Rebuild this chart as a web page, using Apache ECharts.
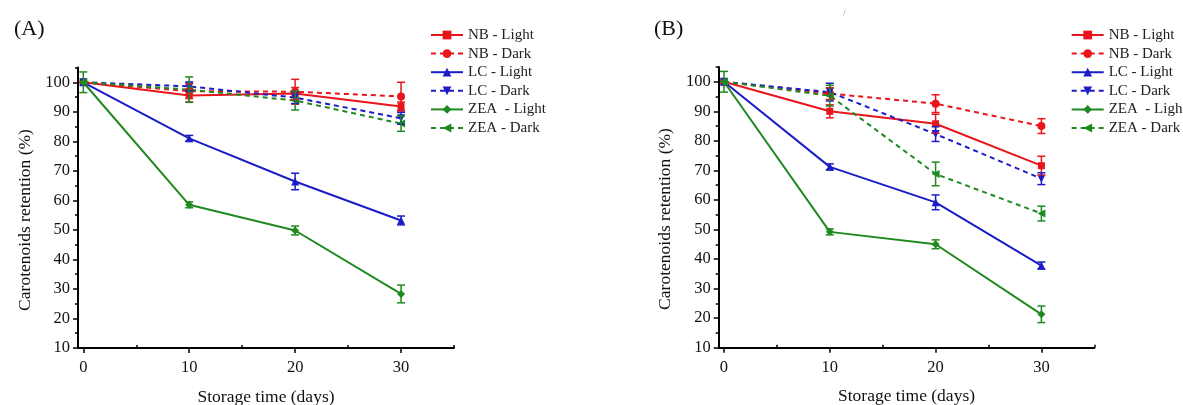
<!DOCTYPE html>
<html>
<head>
<meta charset="utf-8">
<script src="https://cdn.jsdelivr.net/npm/echarts@6/dist/echarts.min.js"></script>
<style>html,body{margin:0;padding:0;background:#fff}#c{width:1183px;height:405px}</style>
</head>
<body>
<div id="c"></div>
<script>
// ---- data ----
const days = [0, 10, 20, 30];
const seriesNames = ['NB - Light', 'NB - Dark', 'LC - Light', 'LC - Dark', 'ZEA  - Light', 'ZEA - Dark'];
const yTickLabels = [10, 20, 30, 40, 50, 60, 70, 80, 90, 100];
const xTickLabels = [0, 10, 20, 30];

// Panel A values (%)
const A_NB_Light  = [100, 95.5, 96.2, 91.8];
const A_NB_Dark   = [100, 97.0, 96.8, 95.2];
const A_LC_Light  = [100, 81.0, 66.4, 53.2];
const A_LC_Dark   = [100, 98.6, 94.8, 87.8];
const A_ZEA_Light = [100, 58.5, 49.8, 28.3];
const A_ZEA_Dark  = [100, 97.5, 93.8, 86.0];
// Panel A error (±)
const A_NB_Light_err  = [0, 2.2, 2.0, 1.5];
const A_NB_Dark_err   = [0, 2.5, 4.2, 4.8];
const A_LC_Light_err  = [0, 1.0, 2.8, 1.5];
const A_LC_Dark_err   = [0, 1.5, 2.0, 2.0];
const A_ZEA_Light_err = [3.5, 1.0, 1.5, 3.0];
const A_ZEA_Dark_err  = [0, 4.3, 3.2, 2.6];

// Panel B values (%)
const B_NB_Light  = [100, 90.0, 85.8, 71.6];
const B_NB_Dark   = [100, 96.0, 92.6, 85.0];
const B_LC_Light  = [100, 71.2, 59.2, 37.8];
const B_LC_Dark   = [100, 96.5, 82.3, 67.2];
const B_ZEA_Light = [100, 49.2, 45.0, 21.3];
const B_ZEA_Dark  = [100, 95.3, 68.8, 55.4];
// Panel B error (±)
const B_NB_Light_err  = [0, 2.2, 3.2, 3.2];
const B_NB_Dark_err   = [0, 2.0, 3.0, 2.5];
const B_LC_Light_err  = [0, 1.0, 2.5, 1.2];
const B_LC_Dark_err   = [0, 3.0, 2.5, 2.0];
const B_ZEA_Light_err = [3.5, 1.0, 1.5, 2.8];
const B_ZEA_Dark_err  = [0, 3.5, 4.0, 2.5];

// ---- styles ----
const RED = '#e8161c', BLUE = '#1c1cc8', GREEN = '#1f8a1f';
const FONT = 'Liberation Serif';
const styles = [
  {color: RED,   dash: 'solid', symbol: 'rect',     size: 7, rot: 0},
  {color: RED,   dash: [5, 4],  symbol: 'circle',   size: 8, rot: 0},
  {color: BLUE,  dash: 'solid', symbol: 'triangle', size: 8, rot: 0},
  {color: BLUE,  dash: [5, 4],  symbol: 'triangle', size: 8, rot: 180},
  {color: GREEN, dash: 'solid', symbol: 'diamond',  size: 8, rot: 0},
  {color: GREEN, dash: [5, 4],  symbol: 'triangle', size: 8, rot: 90}
];

const panelA = [A_NB_Light, A_NB_Dark, A_LC_Light, A_LC_Dark, A_ZEA_Light, A_ZEA_Dark];
const panelAErr = [A_NB_Light_err, A_NB_Dark_err, A_LC_Light_err, A_LC_Dark_err, A_ZEA_Light_err, A_ZEA_Dark_err];
const panelB = [B_NB_Light, B_NB_Dark, B_LC_Light, B_LC_Dark, B_ZEA_Light, B_ZEA_Dark];
const panelBErr = [B_NB_Light_err, B_NB_Dark_err, B_LC_Light_err, B_LC_Dark_err, B_ZEA_Light_err, B_ZEA_Dark_err];

function mainX(gi) {
  return {
    type: 'value', gridIndex: gi, min: -0.5, max: 35, position: 'bottom',
    axisLine: {show: true, onZero: false, lineStyle: {color: '#000', width: 2}},
    axisTick: {show: true, customValues: xTickLabels, length: 5, lineStyle: {color: '#000', width: 1.5}},
    axisLabel: {customValues: xTickLabels, color: '#111', fontFamily: FONT, fontSize: 16.5, margin: 11},
    splitLine: {show: false},
    name: 'Storage time (days)', nameLocation: 'middle', nameGap: 40,
    nameTextStyle: {fontFamily: FONT, fontSize: 17.5, color: '#111'}
  };
}
function minorX(gi) {
  return {
    type: 'value', gridIndex: gi, min: -0.5, max: 35, position: 'bottom',
    axisLine: {show: false, onZero: false},
    axisTick: {show: true, inside: true, customValues: [5, 15, 25, 35], length: 3, lineStyle: {color: '#000', width: 1.5}},
    axisLabel: {show: false}, splitLine: {show: false}
  };
}
function mainY(gi) {
  return {
    type: 'value', gridIndex: gi, min: 10, max: 105, position: 'left',
    axisLine: {show: true, onZero: false, lineStyle: {color: '#000', width: 2}},
    axisTick: {show: true, customValues: yTickLabels, length: 5, lineStyle: {color: '#000', width: 1.5}},
    axisLabel: {customValues: yTickLabels, color: '#111', fontFamily: FONT, fontSize: 16.5, margin: 8},
    splitLine: {show: false}
  };
}
function minorY(gi) {
  return {
    type: 'value', gridIndex: gi, min: 10, max: 105, position: 'left',
    axisLine: {show: false, onZero: false},
    axisTick: {show: true, customValues: [15, 25, 35, 45, 55, 65, 75, 85, 95, 105], length: 3, lineStyle: {color: '#000', width: 1.5}},
    axisLabel: {show: false}, splitLine: {show: false}
  };
}

const series = [];
function addPanel(vals, errs, axisIdx) {
  vals.forEach((v, i) => {
    const s = styles[i];
    series.push({
      type: 'line', name: seriesNames[i], xAxisIndex: axisIdx, yAxisIndex: axisIdx,
      data: days.map((d, k) => [d, v[k]]),
      symbol: s.symbol, symbolSize: s.size, symbolRotate: s.rot,
      itemStyle: {color: s.color},
      lineStyle: {color: s.color, width: 2, type: s.dash},
      z: 3, animation: false
    });
  });
  vals.forEach((v, i) => {
    const col = styles[i].color;
    series.push({
      type: 'custom', name: seriesNames[i] + ' err', xAxisIndex: axisIdx, yAxisIndex: axisIdx,
      data: days.map((d, k) => [d, v[k], errs[i][k]]),
      encode: {x: 0, y: 1},
      renderItem: function (params, api) {
        const x = api.value(0), y = api.value(1), e = api.value(2);
        if (!e) return null;
        const t = api.coord([x, y + e]), b = api.coord([x, y - e]);
        const w = 4;
        const st = {stroke: col, lineWidth: 1.5};
        return {type: 'group', children: [
          {type: 'line', shape: {x1: t[0], y1: t[1], x2: b[0], y2: b[1]}, style: st},
          {type: 'line', shape: {x1: t[0] - w, y1: t[1], x2: t[0] + w, y2: t[1]}, style: st},
          {type: 'line', shape: {x1: b[0] - w, y1: b[1], x2: b[0] + w, y2: b[1]}, style: st}
        ]};
      },
      z: 4, animation: false
    });
  });
}
addPanel(panelA, panelAErr, 0);
addPanel(panelB, panelBErr, 2);

function legend(left) {
  return {
    orient: 'vertical', left: left, top: 27.5, padding: 0, data: seriesNames,
    itemWidth: 32, itemHeight: 11, itemGap: 3.6,
    textStyle: {fontFamily: FONT, fontSize: 15, color: '#222', lineHeight: 15},
    selectedMode: false
  };
}

function yName(x, y) {
  return {
    type: 'text', x: x, y: y, rotation: Math.PI / 2,
    style: {text: 'Carotenoids retention (%)', fill: '#111', font: '17.5px ' + FONT, textAlign: 'center', textVerticalAlign: 'middle'}
  };
}

const option = {
  backgroundColor: '#fff',
  animation: false,
  title: [
    {text: '(A)', left: 9, top: 13, textStyle: {fontFamily: FONT, fontSize: 22, fontWeight: 'normal', color: '#111'}},
    {text: '(B)', left: 649, top: 13, textStyle: {fontFamily: FONT, fontSize: 22, fontWeight: 'normal', color: '#111'}}
  ],
  graphic: [
    {type: 'text', x: 843, y: 8, style: {text: '/', fill: '#aaa', font: '11px ' + FONT}},
    yName(25, 220),
    yName(665, 219)
  ],
  grid: [
    {left: 78, right: 729, top: 67.5, bottom: 57, containLabel: false, outerBoundsMode: 'none'},
    {left: 718.7, right: 88.7, top: 67, bottom: 57.3, containLabel: false, outerBoundsMode: 'none'}
  ],
  xAxis: [mainX(0), minorX(0), mainX(1), minorX(1)],
  yAxis: [mainY(0), minorY(0), mainY(1), minorY(1)],
  legend: [legend(430), legend(1070.7)],
  series: series
};

const chart = echarts.init(document.getElementById('c'), null, {renderer: 'canvas'});
chart.setOption(option);
</script>
</body>
</html>
